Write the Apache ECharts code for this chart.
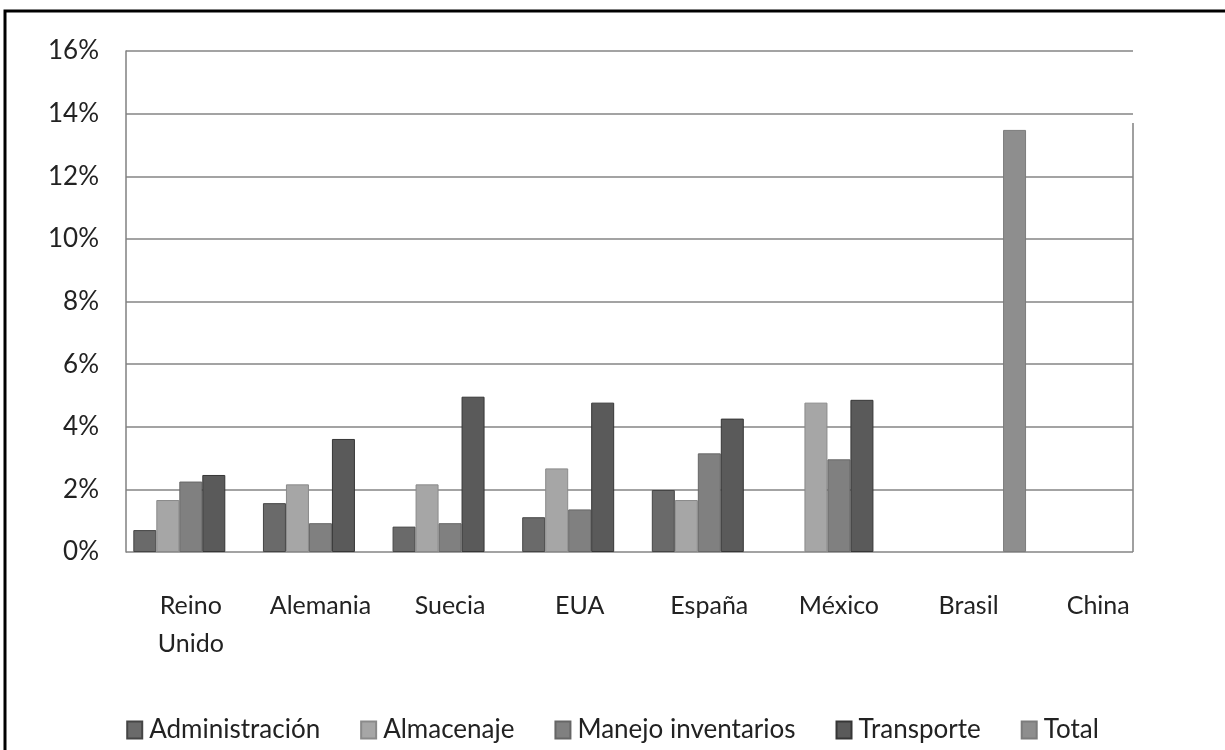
<!DOCTYPE html>
<html>
<head>
<meta charset="utf-8">
<script src="https://cdn.jsdelivr.net/npm/echarts@6/dist/echarts.min.js"></script>
<style>
html,body{margin:0;padding:0;background:#fff;}
#chart{width:1225px;height:750px;}
</style>
</head>
<body>
<div id="chart"></div>
<script>
const categories = ['Reino\nUnido', 'Alemania', 'Suecia', 'EUA', 'España', 'México', 'Brasil', 'China'];
const seriesNames = ['Administración', 'Almacenaje', 'Manejo inventarios', 'Transporte', 'Total'];
const administracion = [0.70, 1.56, 0.81, 1.11, 1.98, null, null, null];
const almacenaje     = [1.66, 2.16, 2.16, 2.67, 1.66, 4.77, null, null];
const manejo         = [2.25, 0.92, 0.92, 1.36, 3.15, 2.96, null, null];
const transporte     = [2.46, 3.61, 4.96, 4.77, 4.26, 4.86, null, null];
const total          = [null, null, null, null, null, null, 13.48, null];
const yTicks = [0, 2, 4, 6, 8, 10, 12, 14, 16];

const seriesData = [administracion, almacenaje, manejo, transporte, total];
const fills = ['#6a6a6a', '#a6a6a6', '#808080', '#5a5a5a', '#8e8e8e'];
const borders = ['#454545', '#8a8a8a', '#666666', '#363636', '#7c7c7c'];

const FONT = 'Lato';
const TXT = '#222222';

const chart = echarts.init(document.getElementById('chart'), null, {renderer: 'canvas'});
chart.setOption({
  backgroundColor: '#ffffff',
  animation: false,
  textStyle: {fontFamily: FONT},
  grid: [
    {left: 126, right: 92, top: 51, bottom: 198},
    {left: 126, right: 62, top: 51, bottom: 198}
  ],
  legend: {
    data: seriesNames,
    left: 'center',
    top: 712,
    icon: 'rect',
    itemWidth: 15,
    itemHeight: 17,
    itemGap: 40,
    textStyle: {fontFamily: FONT, fontSize: 26, color: TXT, padding: [0, 0, 0, 2]}
  },
  xAxis: [
    {gridIndex: 0, type: 'value', min: 0, max: 1, show: false},
    {
      gridIndex: 1, type: 'category', data: categories,
      axisLine: {show: false}, axisTick: {show: false},
      axisLabel: {fontFamily: FONT, fontSize: 25, color: TXT, margin: 35, lineHeight: 38, interval: 0}
    }
  ],
  yAxis: [
    {
      gridIndex: 0, type: 'value', min: yTicks[0], max: yTicks[yTicks.length - 1], interval: 2,
      axisLine: {show: true, lineStyle: {color: '#808080', width: 1.5}},
      axisTick: {show: false},
      axisLabel: {formatter: '{value}%', fontFamily: FONT, fontSize: 26, color: TXT, margin: 27},
      splitLine: {show: true, lineStyle: {color: '#858585', width: 1.5}}
    },
    {gridIndex: 1, type: 'value', min: yTicks[0], max: yTicks[yTicks.length - 1], show: false}
  ],
  series: seriesNames.map((name, i) => ({
    name: name,
    type: 'bar',
    xAxisIndex: 1,
    yAxisIndex: 1,
    data: seriesData[i],
    barGap: '0%',
    barCategoryGap: '11.3%',
    itemStyle: {color: fills[i], borderColor: borders[i], borderWidth: 1}
  })),
  graphic: [
    {type: 'rect', shape: {x: 5, y: 11, width: 1400, height: 900}, style: {fill: 'none', stroke: '#000', lineWidth: 3}, silent: true},
    {type: 'line', shape: {x1: 1133, y1: 123, x2: 1133, y2: 552}, style: {stroke: '#808080', lineWidth: 1.5}, silent: true}
  ]
});
</script>
</body>
</html>
